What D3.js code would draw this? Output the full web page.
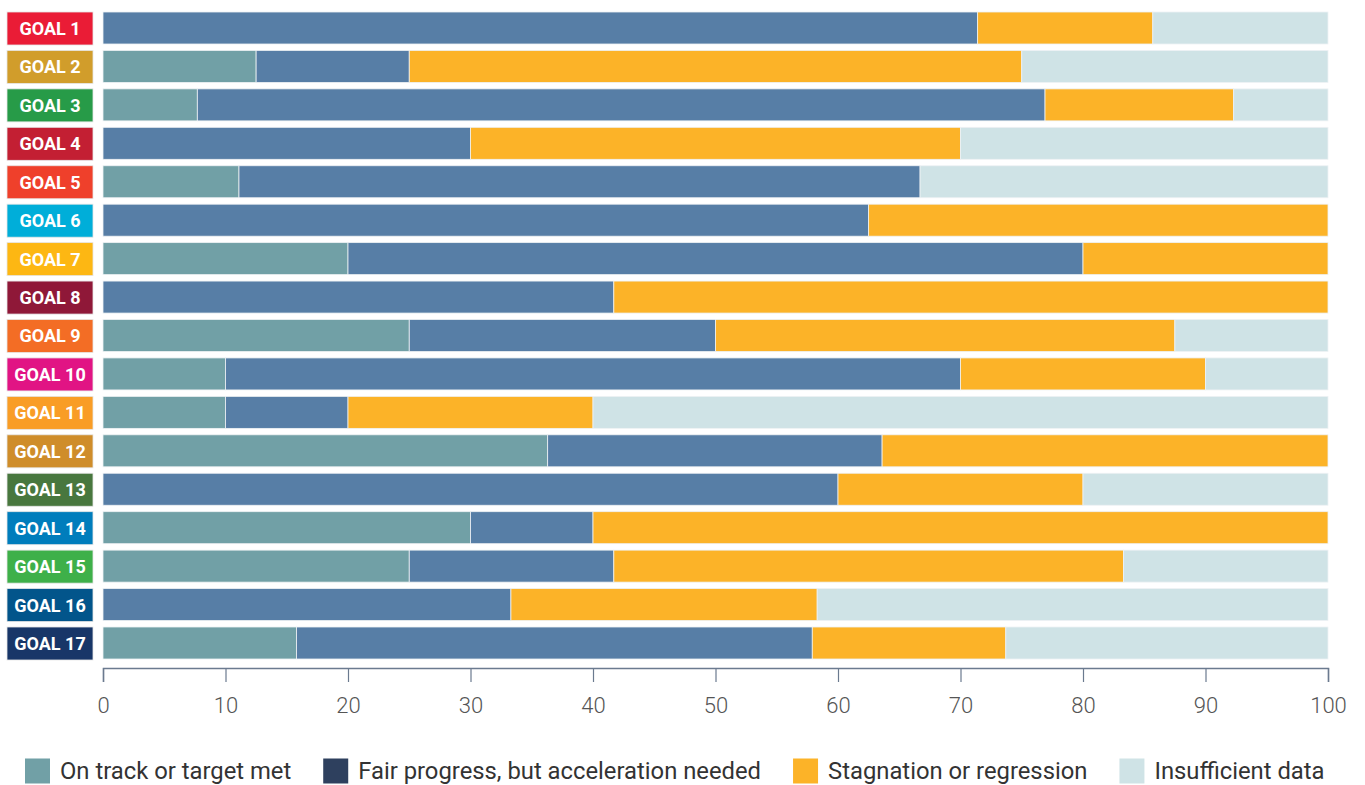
<!DOCTYPE html>
<html>
<head>
<meta charset="utf-8">
<script src="https://cdn.jsdelivr.net/npm/d3@7"></script>
<style>
  body { margin: 0; background: #fff; }
  svg { font-family: Roboto, "Noto Sans", sans-serif; }
</style>
</head>
<body>
<script>
// datos
var goals = ["GOAL 1", "GOAL 2", "GOAL 3", "GOAL 4", "GOAL 5", "GOAL 6", "GOAL 7", "GOAL 8", "GOAL 9",
  "GOAL 10", "GOAL 11", "GOAL 12", "GOAL 13", "GOAL 14", "GOAL 15", "GOAL 16", "GOAL 17"];
var goalColors = ["#ea1c36", "#d19d2b", "#279b48", "#c31f33", "#ef402b", "#00aed9", "#fdb713", "#8f1838", "#f36d25",
  "#e11484", "#f99d26", "#cf8d2a", "#48773e", "#007dbc", "#3eb049", "#02558b", "#183668"];

var onTrack      = [0, 12.5, 7.7, 0, 11.1, 0, 20, 0, 25, 10, 10, 36.3, 0, 30, 25, 0, 15.8];
var fairProgress = [71.4, 12.5, 69.2, 30, 55.6, 62.5, 60, 41.7, 25, 60, 10, 27.3, 60, 10, 16.7, 33.3, 42.1];
var stagnation   = [14.3, 50, 15.4, 40, 0, 37.5, 20, 58.3, 37.5, 20, 20, 36.4, 20, 60, 41.6, 25, 15.8];
var insufficient = [14.3, 25, 7.7, 30, 33.3, 0, 0, 0, 12.5, 10, 60, 0, 20, 0, 16.7, 41.7, 26.3];

var seriesKeys = ["onTrack", "fair", "stagnation", "insufficient"];
var seriesLabels = ["On track or target met", "Fair progress, but acceleration needed", "Stagnation or regression", "Insufficient data"];
var barColors = ["#71a0a6", "#577ea6", "#fcb328", "#cfe3e6"];
var legendColors = ["#71a0a6", "#2e405e", "#fcb328", "#cfe3e6"];
var xTicks = [0, 10, 20, 30, 40, 50, 60, 70, 80, 90, 100];

// tabla para d3.stack
var tabla = goals.map(function (g, i) {
  return { goal: g, onTrack: onTrack[i], fair: fairProgress[i], stagnation: stagnation[i], insufficient: insufficient[i] };
});

var width = 1365, height = 785;

var svg = d3.select("body").append("svg")
  .attr("width", width)
  .attr("height", height);

var escalaX = d3.scaleLinear().domain([0, 100]).range([103, 1328]);

var escalaY = d3.scaleBand()
  .domain(goals)
  .range([8.78, 662.22])
  .paddingInner(0.1675)
  .paddingOuter(0.08375);

var escalaColor = d3.scaleOrdinal().domain(seriesKeys).range(barColors);

var apilado = d3.stack().keys(seriesKeys)(tabla);

// barras
svg.append("g")
  .selectAll("g")
  .data(apilado)
  .join("g")
  .attr("fill", function (d) { return escalaColor(d.key); })
  .selectAll("rect")
  .data(function (d) { return d; })
  .join("rect")
  .attr("x", function (d) { return escalaX(d[0]); })
  .attr("y", function (d) { return escalaY(d.data.goal); })
  .attr("width", function (d) { return Math.max(0, escalaX(d[1]) - escalaX(d[0])); })
  .attr("height", escalaY.bandwidth())
  .attr("stroke", "#eef2f4")
  .attr("stroke-width", 0.8);

// etiquetas de los objetivos
var etiquetas = svg.append("g")
  .selectAll("g")
  .data(goals)
  .join("g")
  .attr("transform", function (d) { return "translate(7," + escalaY(d) + ")"; });

etiquetas.append("rect")
  .attr("width", 86)
  .attr("height", escalaY.bandwidth() + 1)
  .attr("fill", function (d, i) { return goalColors[i]; })
  .attr("stroke", "#e6e6e6")
  .attr("stroke-width", 0.8);

etiquetas.append("text")
  .attr("x", 43)
  .attr("y", (escalaY.bandwidth() + 1) / 2)
  .attr("dy", "0.36em")
  .attr("text-anchor", "middle")
  .attr("fill", "#fff")
  .style("font-size", "18px")
  .style("font-weight", "bold")
  .text(function (d) { return d; });

// eje X
var ejeX = d3.axisBottom(escalaX)
  .tickValues(xTicks)
  .tickSize(14)
  .tickPadding(15);

var gEje = svg.append("g")
  .attr("transform", "translate(0,668)")
  .call(ejeX);

gEje.select(".domain").attr("stroke", "#6b7a8f").attr("stroke-width", 1.5);
gEje.selectAll(".tick line").attr("stroke", "#6b7a8f").attr("stroke-width", 1.2);
gEje.selectAll(".tick text")
  .attr("fill", "#555")
  .style("font-size", "22px")
  .style("font-weight", "300")
  .style("font-family", "Roboto, sans-serif");

// leyenda
var leyenda = svg.append("g").attr("transform", "translate(0,771)");
var posX = 25;
seriesLabels.forEach(function (lab, i) {
  leyenda.append("rect")
    .attr("x", posX)
    .attr("y", -12.5)
    .attr("width", 25)
    .attr("height", 25)
    .attr("fill", legendColors[i]);
  var t = leyenda.append("text")
    .attr("x", posX + 35)
    .attr("y", 0)
    .attr("dy", "0.35em")
    .attr("fill", "#333")
    .style("font-size", "23.8px")
    .text(lab);
  posX = posX + 35 + t.node().getComputedTextLength() + 32;
});
</script>
</body>
</html>
